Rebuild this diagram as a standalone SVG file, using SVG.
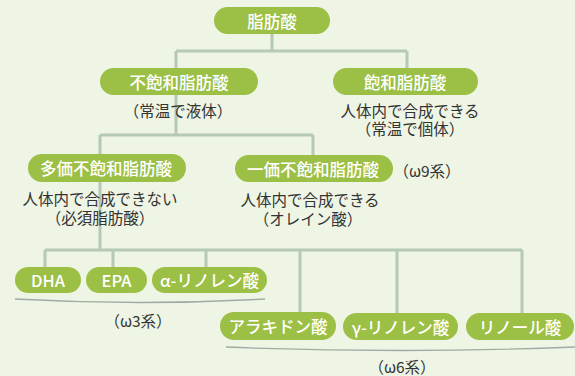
<svg xmlns="http://www.w3.org/2000/svg" width="575" height="376" viewBox="0 0 575 376">
<style>
.bg{fill:#eef5e5}
.pill{fill:#9cbf45}
.pl{fill:#ffffff;font-family:"Noto Sans CJK JP","Noto Sans",sans-serif;font-size:16.5px;font-weight:500;text-anchor:middle;dominant-baseline:central}
.tx{fill:#333333;font-family:"Noto Sans CJK JP","Noto Sans",sans-serif;font-size:15.5px;text-anchor:middle;dominant-baseline:central}
.ln{stroke:#b6c8b6;stroke-width:3;fill:none}
.arc{stroke:#a3aaa3;stroke-width:1.3;fill:none}
</style>
<rect class="bg" x="0" y="0" width="575" height="376"/>
<g id="connectors">
<path class="ln" d="M272 34V51M176 51H407M176 51V135M407 51V68M100 135H313M100 135V250M313 135V155M45 250H522M45 250V267M113 250V267M206 250V267M300 250V312M397 250V313M522 250V313"/>
<path class="arc" d="M15 299Q140 306 265 299"/>
<path class="arc" d="M226 347Q400 354 575 347"/>
</g>
<g id="n-fatty"><rect class="pill" x="214" y="7" width="116" height="27" rx="13.5"/><text class="pl" x="272" y="20.5">脂肪酸</text></g>
<g id="n-unsat"><rect class="pill" x="100" y="68" width="158" height="27" rx="13.5"/><text class="pl" x="179" y="81.5">不飽和脂肪酸</text><text class="tx" x="178" y="110">（常温で液体）</text></g>
<g id="n-sat"><rect class="pill" x="333" y="68" width="145" height="27" rx="13.5"/><text class="pl" x="405" y="81.5">飽和脂肪酸</text><text class="tx" x="410" y="109.5">人体内で合成できる</text><text class="tx" x="410" y="128">（常温で個体）</text></g>
<g id="n-poly"><rect class="pill" x="28" y="154" width="158" height="28" rx="14"/><text class="pl" x="106" y="168">多価不飽和脂肪酸</text><text class="tx" x="100" y="198">人体内で合成できない</text><text class="tx" x="100" y="217">（必須脂肪酸）</text></g>
<g id="n-mono"><rect class="pill" x="235" y="155" width="158" height="27" rx="13.5"/><text class="pl" x="313" y="168.5">一価不飽和脂肪酸</text><text class="tx" x="427" y="170">（ω9系）</text><text class="tx" x="310" y="199">人体内で合成できる</text><text class="tx" x="308" y="217.5">（オレイン酸）</text></g>
<g id="n-dha"><rect class="pill" x="15" y="267" width="66" height="26" rx="13"/><text class="pl" x="48" y="280">DHA</text></g>
<g id="n-epa"><rect class="pill" x="86" y="267" width="61" height="26" rx="13"/><text class="pl" x="116.5" y="280">EPA</text></g>
<g id="n-ala"><rect class="pill" x="152" y="267" width="115" height="26" rx="13"/><text class="pl" x="209.5" y="280">α-リノレン酸</text></g>
<g id="n-w3"><text class="tx" x="138" y="320">（ω3系）</text></g>
<g id="n-ara"><rect class="pill" x="220" y="312" width="116" height="28" rx="14"/><text class="pl" x="278" y="326">アラキドン酸</text></g>
<g id="n-gla"><rect class="pill" x="343" y="313" width="115" height="27" rx="13.5"/><text class="pl" x="400.5" y="326.5">γ-リノレン酸</text></g>
<g id="n-la"><rect class="pill" x="466" y="313" width="108" height="27" rx="13.5"/><text class="pl" x="520" y="326.5">リノール酸</text></g>
<g id="n-w6"><text class="tx" x="402" y="366">（ω6系）</text></g>
</svg>
